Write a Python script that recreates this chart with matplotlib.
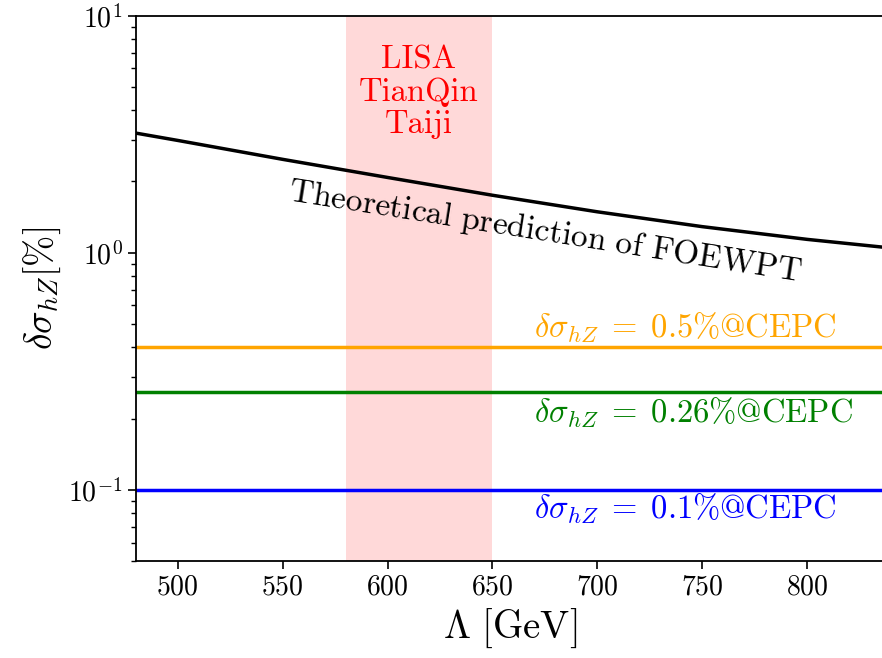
import matplotlib
matplotlib.use("Agg")
import matplotlib.pyplot as plt

# Theoretical curve
lam = [480, 500, 550, 600, 650, 700, 750, 800, 837]
sigma_theory = [3.2, 2.98, 2.48, 2.08, 1.75, 1.49, 1.29, 1.14, 1.055]

# CEPC precision lines
cepc_values = [0.5, 0.26, 0.1]
cepc_levels = [0.4, 0.26, 0.1]
cepc_colors = ["orange", "green", "blue"]
cepc_text_y = [0.485, 0.211, 0.083]

# Space detector window
gw_band = (580, 650)
gw_names = ["LISA", "TianQin", "Taiji"]

plt.rcParams["font.family"] = ["cmr10", "DejaVu Serif"]
plt.rcParams["mathtext.fontset"] = "cm"
plt.rcParams["axes.formatter.use_mathtext"] = True

fig = plt.figure(figsize=(8.82, 6.58), dpi=100)
# right spine sits just outside the canvas, as in the cropped original
ax = fig.add_axes([0.154, 0.147, 0.849, 0.829])

# Shaded detector band
ax.axvspan(gw_band[0], gw_band[1], color="red", alpha=0.15, lw=0)
ax.text(sum(gw_band) / 2, 7.5, "\n".join(gw_names), color="red",
        fontsize=23.5, ha="center", va="top", linespacing=1.12)

# Theoretical prediction
ax.plot(lam, sigma_theory, color="black", lw=2.5)
ax.text(675, 1.23, r"$\mathrm{Theoretical\ prediction\ of\ FOEWPT}$",
        fontsize=24, rotation=-9, rotation_mode="anchor",
        ha="center", va="center")

# CEPC lines
for val, lvl, col, ty in zip(cepc_values, cepc_levels, cepc_colors, cepc_text_y):
    ax.axhline(lvl, color=col, lw=2.5)
    ax.text(670, ty, r"$\delta\sigma_{hZ}\;=\;%g\%%$@CEPC" % val, color=col,
            fontsize=23.5, ha="left", va="center")

ax.set_yscale("log")
ax.set_xlim(480, 837)
ax.set_ylim(0.05, 10)

ax.set_xlabel(r"$\Lambda\ [\mathrm{GeV}]$", fontsize=28)
ax.set_ylabel(r"$\delta\sigma_{hZ}[\%]$", fontsize=27)

ax.tick_params(axis="both", which="major", labelsize=20, length=6, width=1.2)
ax.tick_params(axis="y", which="minor", length=3.5, width=1)
for s in ax.spines.values():
    s.set_linewidth(1.3)

fig.savefig("out.png", dpi=100)
